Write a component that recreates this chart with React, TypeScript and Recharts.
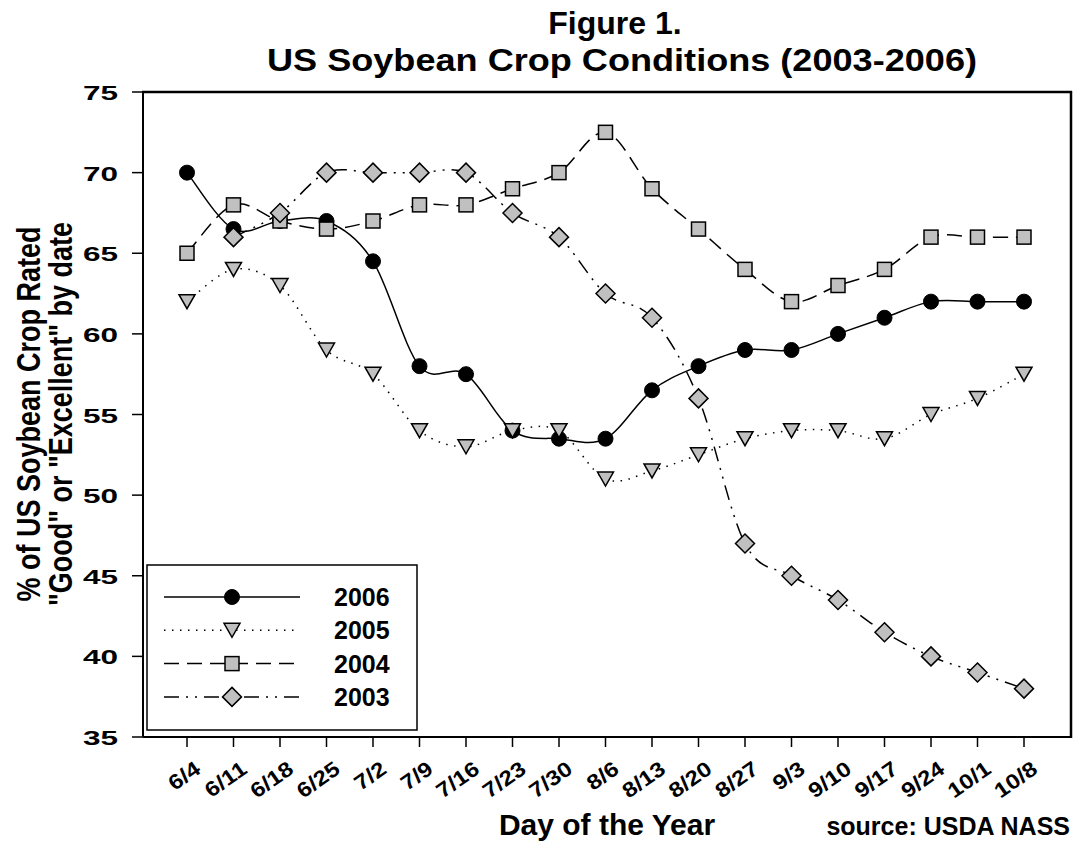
import React from 'react';
import { LineChart, Line, XAxis, YAxis, Legend } from 'recharts';

const dates = ['6/4', '6/11', '6/18', '6/25', '7/2', '7/9', '7/16', '7/23', '7/30', '8/6', '8/13', '8/20', '8/27', '9/3', '9/10', '9/17', '9/24', '10/1', '10/8'];
const s2006 = [70, 66.5, 67, 67, 64.5, 58, 57.5, 54, 53.5, 53.5, 56.5, 58, 59, 59, 60, 61, 62, 62, 62];
const s2005 = [62, 64, 63, 59, 57.5, 54, 53, 54, 54, 51, 51.5, 52.5, 53.5, 54, 54, 53.5, 55, 56, 57.5];
const s2004 = [65, 68, 67, 66.5, 67, 68, 68, 69, 70, 72.5, 69, 66.5, 64, 62, 63, 64, 66, 66, 66];
const s2003 = [null, 66, 67.5, 70, 70, 70, 70, 67.5, 66, 62.5, 61, 56, 47, 45, 43.5, 41.5, 40, 39, 38];
const yTicks = [35, 40, 45, 50, 55, 60, 65, 70, 75];
const seriesKeys = ['y2006', 'y2005', 'y2004', 'y2003'];
const seriesNames = ['2006', '2005', '2004', '2003'];

const data = dates.map((d, i) => ({ date: d, y2006: s2006[i], y2005: s2005[i], y2004: s2004[i], y2003: s2003[i] }));

const FONT = '"Liberation Sans", Arial, Helvetica, sans-serif';
const GRAY = '#c0c0c0';

const seriesStyle: Record<string, { dash?: string; marker: string }> = {
  y2006: { dash: undefined, marker: 'circle' },
  y2005: { dash: '1.5 6.5', marker: 'triangle' },
  y2004: { dash: '15 8', marker: 'square' },
  y2003: { dash: '15 7 2 7 2 7', marker: 'diamond' },
};

const catmull = (context: any) => {
  let pts: number[][] = [];
  return {
    areaStart() {},
    areaEnd() {},
    lineStart() { pts = []; },
    point(x: number, y: number) { pts.push([+x, +y]); },
    lineEnd() {
      const n = pts.length;
      if (n === 0) return;
      context.moveTo(pts[0][0], pts[0][1]);
      if (n === 1) { context.lineTo(pts[0][0], pts[0][1]); return; }
      const k = 1 / 6;
      for (let i = 0; i < n - 1; i++) {
        const p0 = pts[Math.max(i - 1, 0)];
        const p1 = pts[i];
        const p2 = pts[i + 1];
        const p3 = pts[Math.min(i + 2, n - 1)];
        context.bezierCurveTo(
          p1[0] + (p2[0] - p0[0]) * k, p1[1] + (p2[1] - p0[1]) * k,
          p2[0] - (p3[0] - p1[0]) * k, p2[1] - (p3[1] - p1[1]) * k,
          p2[0], p2[1]
        );
      }
    },
  };
};

function Marker({ kind, cx, cy }: { kind: string; cx: number; cy: number }) {
  if (kind === 'circle') return <circle cx={cx} cy={cy} r={7.5} fill="#000" stroke="#000" />;
  if (kind === 'triangle')
    return <polygon points={`${cx - 8},${cy - 7} ${cx + 8},${cy - 7} ${cx},${cy + 7}`} fill={GRAY} stroke="#000" strokeWidth={1.5} />;
  if (kind === 'square')
    return <rect x={cx - 7} y={cy - 7} width={14} height={14} fill={GRAY} stroke="#000" strokeWidth={1.5} />;
  return <polygon points={`${cx},${cy - 9.5} ${cx + 9.5},${cy} ${cx},${cy + 9.5} ${cx - 9.5},${cy}`} fill={GRAY} stroke="#000" strokeWidth={1.5} />;
}

const makeDot = (kind: string) => (props: any) => {
  const { cx, cy, index, value } = props;
  if (cx == null || cy == null || value == null) return <g key={`e-${kind}-${index}`} />;
  return (
    <g key={`d-${kind}-${index}`}>
      <Marker kind={kind} cx={cx} cy={cy} />
    </g>
  );
};

const XTick = (props: any) => {
  const { x, y, payload } = props;
  return (
    <text
      transform={`translate(${x + 15},${y + 23}) rotate(-35) scale(1.15,1)`}
      textAnchor="end"
      fontSize={21}
      fontWeight="bold"
      fontFamily={FONT}
      fill="#000"
    >
      {payload.value}
    </text>
  );
};

const YTick = (props: any) => {
  const { x, y, payload } = props;
  return (
    <text
      transform={`translate(${x},${y + 8}) scale(1.5,1)`}
      textAnchor="end"
      fontSize={21}
      fontWeight="bold"
      fontFamily={FONT}
      fill="#000"
    >
      {payload.value}
    </text>
  );
};

const LegendBox = (props: any) => {
  const payload = [...(props.payload || [])].sort(
    (a: any, b: any) => seriesKeys.indexOf(a.dataKey) - seriesKeys.indexOf(b.dataKey)
  );
  return (
    <svg width={272} height={167} style={{ display: 'block' }}>
      <rect x={1} y={1} width={270} height={165} fill="#fff" stroke="#000" strokeWidth={1.5} />
      {payload.map((p: any, i: number) => {
        const st = seriesStyle[p.dataKey] || { marker: 'circle' };
        const cy = 33 + i * 33.3;
        return (
          <g key={`lg-${i}`}>
            <line x1={18} y1={cy} x2={154} y2={cy} stroke="#000" strokeWidth={1.5} strokeDasharray={st.dash} />
            <Marker kind={st.marker} cx={86} cy={cy} />
            <text x={188} y={cy + 9} fontSize={25} fontWeight="bold" fontFamily={FONT} fill="#000">{p.value}</text>
          </g>
        );
      })}
    </svg>
  );
};

export default function App() {
  return (
    <div style={{ position: 'absolute', left: 0, top: 0, width: 1076, height: 843, background: '#fff' }}>
      <LineChart width={1076} height={843} data={data} margin={{ top: 92, right: 5, left: 0, bottom: 0 }}>
        <XAxis
          dataKey="date"
          scale="point"
          padding={{ left: 44, right: 47 }}
          interval={0}
          height={106}
          tickSize={10}
          tickMargin={2}
          axisLine={{ stroke: '#000', strokeWidth: 2 }}
          tickLine={{ stroke: '#000', strokeWidth: 1.5 }}
          tick={<XTick />}
        />
        <YAxis
          domain={[35, 75]}
          ticks={yTicks}
          width={143}
          tickSize={11}
          tickMargin={14}
          axisLine={{ stroke: '#000', strokeWidth: 2 }}
          tickLine={{ stroke: '#000', strokeWidth: 1.5 }}
          tick={<YTick />}
          allowDataOverflow
        />
        <Legend
          layout="horizontal"
          verticalAlign="middle"
          align="center"
          content={<LegendBox />}
          wrapperStyle={{ position: 'absolute', left: 146, top: 564, width: 272, height: 167 }}
        />
        {seriesKeys.map((k, i) => (
          <Line
            key={k}
            dataKey={k}
            name={seriesNames[i]}
            type={catmull as any}
            stroke="#000"
            strokeWidth={1.5}
            strokeDasharray={seriesStyle[k].dash}
            dot={makeDot(seriesStyle[k].marker)}
            activeDot={false}
            isAnimationActive={false}
            connectNulls={false}
          />
        ))}
      </LineChart>
      <svg width={1076} height={843} style={{ position: 'absolute', left: 0, top: 0, pointerEvents: 'none' }}>
        <line x1={142} y1={92} x2={1072} y2={92} stroke="#000" strokeWidth={2.5} />
        <line x1={1071} y1={91} x2={1071} y2={738} stroke="#000" strokeWidth={2.5} />
        <g fontFamily={FONT} fontWeight="bold" fill="#000">
          <text x={615} y={34} fontSize={32} textAnchor="middle">Figure 1.</text>
          <text x={622} y={71} fontSize={32} textAnchor="middle" textLength={710} lengthAdjust="spacingAndGlyphs">US Soybean Crop Conditions (2003-2006)</text>
          <text transform="translate(40,414) rotate(-90) scale(1,1.2)" fontSize={27} textAnchor="middle">% of US Soybean Crop Rated</text>
          <text transform="translate(72,414) rotate(-90) scale(1,1.2)" fontSize={27} textAnchor="middle">"Good" or "Excellent" by date</text>
          <text x={607} y={835} fontSize={30} textAnchor="middle">Day of the Year</text>
          <text x={1070} y={835} fontSize={25} textAnchor="end">source: USDA NASS</text>
        </g>
      </svg>
    </div>
  );
}
